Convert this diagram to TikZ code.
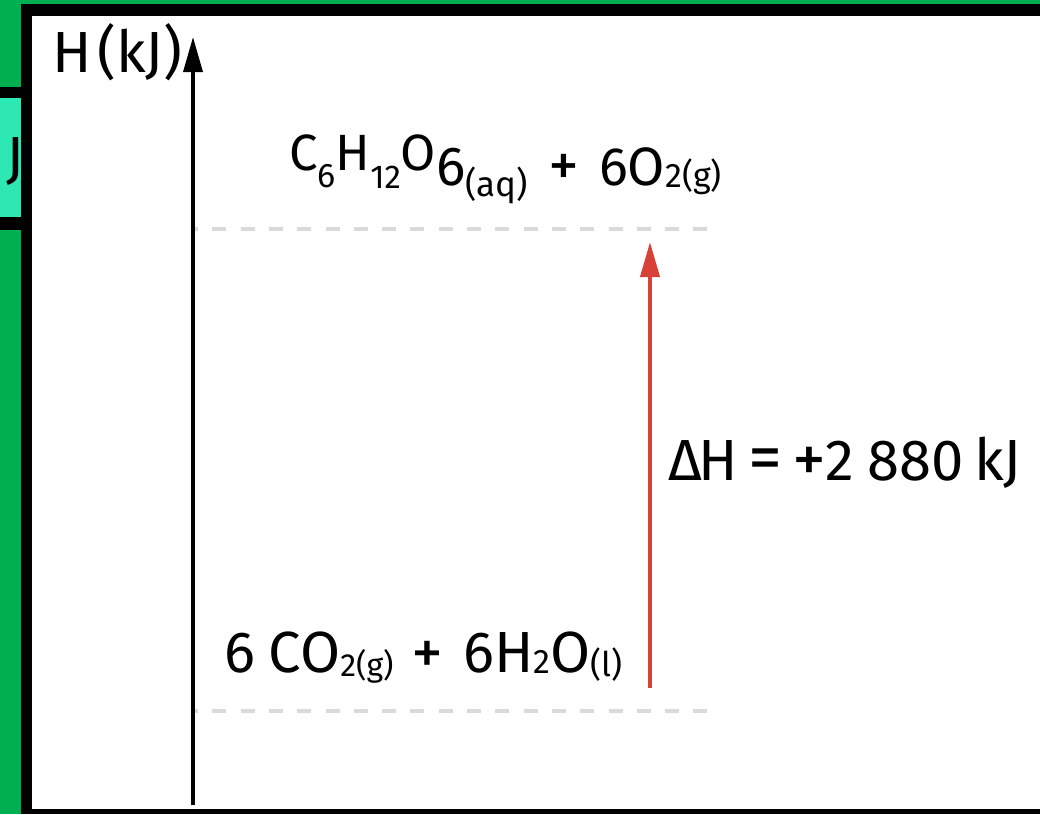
\documentclass[tikz,border=0pt]{standalone}
\usepackage{fontspec}
\setmainfont{Fira Sans}
\usetikzlibrary{arrows.meta}
\definecolor{bggreen}{RGB}{0,176,80}
\definecolor{tealbox}{RGB}{46,232,180}
\definecolor{arrowred}{RGB}{216,64,58}
\definecolor{dashgray}{RGB}{218,218,218}
\newcommand\myfs[1]{\fontsize{#1}{#1}\selectfont}
\tikzset{
  lbl/.style={inner sep=0pt, outer sep=0pt, anchor=base west, text=black},
  levelline/.style={dashgray, line width=4pt, dash pattern=on 14pt off 14.3pt, dash phase=9pt},
  axisline/.style={black, line width=3.5pt, -{Triangle[width=19pt,length=35pt]}},
  dharrow/.style={arrowred, line width=4pt, -{Triangle[width=19pt,length=35pt]}}
}
\begin{document}
\begin{tikzpicture}[x=1pt,y=-1pt]
\useasboundingbox (0,0) rectangle (1040,814);
% background
\fill[bggreen] (0,0) rectangle (1040,814);
% partial teal box on the left
\fill[black] (0,87) rectangle (21,230);
\fill[tealbox] (0,98) rectangle (21,217);
\begin{scope}
  \clip (0,98) rectangle (21,217);
  \node[lbl, anchor=base east] (jside) at (24,177) {\myfs{58}J};
\end{scope}
% black frame and white panel
\fill[black] (21,4) rectangle (1040,814);
\fill[white] (32,16) rectangle (1040,809);
% coordinates
\coordinate (axbot) at (193,805);
\coordinate (axtop) at (193,37);
\coordinate (hiL) at (193,229);
\coordinate (hiR) at (712,229);
\coordinate (loL) at (193,711);
\coordinate (loR) at (712,711);
\coordinate (rbot) at (650,688);
\coordinate (rtop) at (650,242);
% level lines
\draw[levelline] (hiL) -- (hiR);
\draw[levelline] (loL) -- (loR);
% axis
\draw[axisline] (axbot) -- (axtop);
% delta H arrow
\draw[dharrow] (rbot) -- (rtop);
% labels
\node[lbl] (hlabel) at (52,72) {\myfs{58}H\hspace{6pt}(kJ)};
\node[lbl] (toplevel) at (289,170) {\myfs{51}C\raisebox{-17pt}{\myfs{34}6}H\raisebox{-18pt}{\myfs{33}12}O\raisebox{-15pt}{\myfs{55}6}\raisebox{-26pt}{\myfs{35}(aq)}\hspace{20pt}\raisebox{-16pt}{\myfs{62}+}\hspace{20pt}\raisebox{-15pt}{\myfs{54}6O}\raisebox{-17pt}{\myfs{34}2(g)}};
\node[lbl] (botlevel) at (224,672) {\myfs{58}6\hspace{14pt}CO\raisebox{-4pt}{\myfs{32}2(g)}\hspace{18pt}\raisebox{-2pt}{\myfs{64}+}\hspace{20pt}\myfs{58}6H\raisebox{-1pt}{\myfs{34}2}O\raisebox{-4pt}{\myfs{34}(l)}};
\node[lbl] (dhlabel) at (668,480) {\myfs{58}Δ\hspace{-3pt}H\hspace{10pt}{\myfs{68}=}\hspace{10pt}\raisebox{-2pt}{\myfs{68}+}\hspace{-1pt}2\hspace{14pt}880\hspace{10pt}kJ};
\end{tikzpicture}
\end{document}
